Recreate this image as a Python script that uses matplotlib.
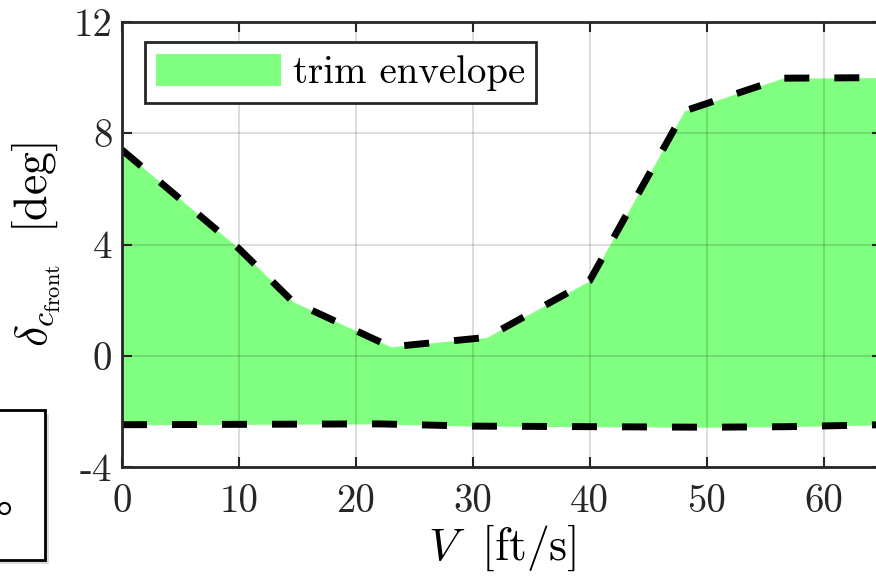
import matplotlib
matplotlib.use("Agg")
import numpy as np
import matplotlib.pyplot as plt
from matplotlib.patches import Rectangle
from matplotlib.lines import Line2D

plt.rcParams['font.family'] = 'serif'
plt.rcParams['font.serif'] = ['cmr10']
plt.rcParams['mathtext.fontset'] = 'cm'
plt.rcParams['axes.unicode_minus'] = False

# trim envelope
V_upper = [0, 10, 14.6, 23, 31.2, 40, 48.1, 56.5, 65]
d_upper = [7.4, 3.85, 1.95, 0.32, 0.66, 2.7, 8.8, 9.98, 10.0]
V_lower = [0, 22, 30, 40, 50, 57, 65]
d_lower = [-2.48, -2.45, -2.53, -2.55, -2.57, -2.55, -2.48]

xticks = [0, 10, 20, 30, 40, 50, 60]
yticks = [-4, 0, 4, 8, 12]
ytick_labels = ['-4', '0', '4', '8', '12']

fig = plt.figure(figsize=(8.76, 5.78), dpi=100)
ax = fig.add_axes([122/876, 1 - 467/578, 760/876, 445/578])

# fill between the two boundaries on a common V grid
V_all = np.union1d(V_upper, V_lower)
ax.fill_between(V_all, np.interp(V_all, V_upper, d_upper), np.interp(V_all, V_lower, d_lower),
                color='#80ff80', lw=0, label='trim envelope', zorder=1)
ax.plot(V_upper, d_upper, color='black', lw=5, ls=(0, (3.6, 3.6)), zorder=3)
ax.plot(V_lower, d_lower, color='black', lw=5, ls=(0, (3.6, 3.6)), zorder=3)

ax.set_xlim(0, 65)
ax.set_ylim(-4, 12)
ax.set_xticks(xticks)
ax.set_yticks(yticks)
ax.set_yticklabels(ytick_labels)
ax.grid(True, color='black', alpha=0.13, lw=1.5, zorder=2)
ax.set_axisbelow(False)

for s in ax.spines.values():
    s.set_color('#262626')
    s.set_linewidth(2)
    s.set_zorder(4)
ax.tick_params(direction='in', length=7, width=1.5, color='#262626',
               top=True, right=True, labelsize=28, labelcolor='#262626')
ax.tick_params(axis='x', pad=12)
ax.tick_params(axis='y', pad=7)

ax.set_xlabel(r'$V\ \ [\mathrm{ft/s}]$', fontsize=33, labelpad=2)
ax.set_ylabel(r'$\delta_{c_{\mathrm{front}}}\ \ [\mathrm{deg}]$', fontsize=33, labelpad=8)

leg = ax.legend(loc='upper left', bbox_to_anchor=(0.03, 0.955), borderaxespad=0,
                fontsize=28, handlelength=3.2, handleheight=0.9, handletextpad=0.3,
                borderpad=0.3, fancybox=False, framealpha=1, edgecolor='#262626')
leg.get_frame().set_linewidth(2)
leg.set_zorder(5)

# piece of a neighbouring legend box at the left edge
fig.patches.append(Rectangle((-0.05 + 4/876, 0.031 - 4/578), 0.1014, 0.26,
                             transform=fig.transFigure, facecolor='#bbbbbb',
                             edgecolor='none', alpha=0.5, zorder=0))
fig.patches.append(Rectangle((-0.05, 0.031), 0.1014, 0.26,
                             transform=fig.transFigure, facecolor='white',
                             edgecolor='black', lw=2, zorder=1))
fig.lines.append(Line2D([4/876], [1 - 508/578], transform=fig.transFigure,
                        marker='o', ms=8, mfc='none', mec='black', mew=1.5, ls='none'))

fig.savefig('out.png', dpi=100)
